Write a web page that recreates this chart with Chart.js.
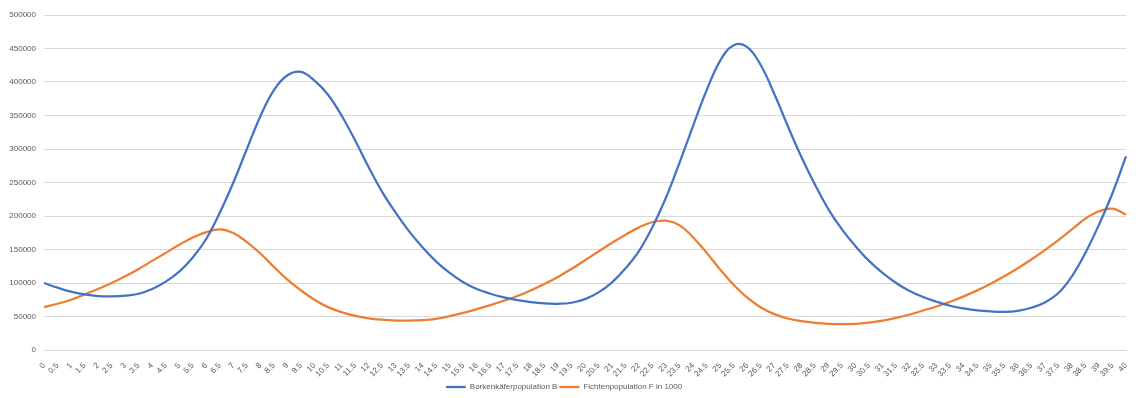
<!DOCTYPE html>
<html>
<head>
<meta charset="utf-8">
<script src="https://cdn.jsdelivr.net/npm/chart.js@4"></script>
<style>
  html, body { margin: 0; padding: 0; background: #fff; }
  #wrap { position: relative; width: 1139px; height: 398px; }
</style>
</head>
<body>
<div id="wrap"><canvas id="chart"></canvas></div>
<script>
// Time steps 0 .. 40 (step 0.5)
const labels = ['0','0.5','1','1.5','2','2.5','3','3.5','4','4.5','5','5.5','6','6.5','7','7.5','8','8.5','9','9.5',
  '10','10.5','11','11.5','12','12.5','13','13.5','14','14.5','15','15.5','16','16.5','17','17.5','18','18.5','19','19.5',
  '20','20.5','21','21.5','22','22.5','23','23.5','24','24.5','25','25.5','26','26.5','27','27.5','28','28.5','29','29.5',
  '30','30.5','31','31.5','32','32.5','33','33.5','34','34.5','35','35.5','36','36.5','37','37.5','38','38.5','39','39.5','40'];

// Borkenkäferpopulation B
const beetles = [
  100000, 93000, 87000, 83000, 80500, 80000, 81000, 84000, 91000, 102000,
  117000, 138000, 166000, 205000, 250000, 300000, 349000, 388000, 410000, 415000,
  402000, 381000, 350000, 313000, 273000, 236000, 205000, 177000, 153000, 132000,
  115000, 101000, 91000, 84000, 78500, 74500, 71500, 69500, 69000, 70500,
  76000, 86000, 101000, 122000, 148000, 184000, 228000, 280000, 335000, 388000,
  432000, 455000, 452000, 425000, 382000, 334000, 288000, 247000, 210000, 180000,
  155000, 133000, 115000, 100000, 88000, 79000, 72000, 66000, 62000, 59000,
  57500, 57000, 58500, 63000, 71000, 85000, 110000, 145000, 187000, 234000,
  289000
];

// Fichtenpopulation F in 1000
const spruce = [
  64000, 69000, 75000, 83000, 91000, 100000, 110000, 121000, 133000, 145000,
  157000, 168000, 176000, 180000, 174500, 161000, 144000, 124000, 105000, 89000,
  75000, 64000, 56500, 51000, 47300, 45200, 44000, 43800, 44500, 46500,
  50500, 55500, 61000, 67000, 73500, 80500, 89000, 98500, 109000, 121000,
  134000, 147000, 160000, 172000, 183000, 191000, 193000, 186000, 168000, 145000,
  120000, 97000, 78000, 63500, 53500, 47000, 43000, 40500, 39000, 38500,
  39000, 41000, 44000, 48000, 53000, 59000, 65000, 72000, 80000, 89000,
  99000, 110000, 122000, 135000, 149000, 164000, 180000, 196000, 207000, 211000,
  202000
];

const FONT = "'Liberation Sans', Arial, sans-serif";
const TEXT = '#595959';

new Chart(document.getElementById('chart'), {
  type: 'line',
  data: {
    labels,
    datasets: [
      { label: 'Borkenkäferpopulation B', data: beetles, borderColor: '#4472C4', backgroundColor: '#4472C4',
        borderWidth: 2.25, pointRadius: 0, tension: 0.4, fill: false },
      { label: 'Fichtenpopulation F in 1000', data: spruce, borderColor: '#ED7D31', backgroundColor: '#ED7D31',
        borderWidth: 2.25, pointRadius: 0, tension: 0.4, fill: false },
    ],
  },
  options: {
    responsive: true,
    maintainAspectRatio: false,
    animation: false,
    layout: { padding: { top: 15, right: 13, bottom: -3, left: 2 } },
    plugins: {
      tooltip: { enabled: false },
      legend: {
        position: 'bottom',
        labels: {
          usePointStyle: true, pointStyle: 'line', pointStyleWidth: 20,
          padding: 2, color: TEXT, font: { family: FONT, size: 8 },
        },
      },
    },
    scales: {
      x: {
        offset: false,
        grid: { display: false },
        border: { color: '#d9d9d9' },
        ticks: { autoSkip: false, maxRotation: 45, minRotation: 45, color: TEXT, font: { family: FONT, size: 8 }, padding: 3 },
        afterFit: s => { s.height = 31; },
      },
      y: {
        min: 0, max: 500000,
        grid: { color: '#d9d9d9', drawTicks: false },
        border: { display: false },
        ticks: { stepSize: 50000, color: TEXT, font: { family: FONT, size: 8 }, padding: 8, callback: v => String(v) },
        afterFit: s => { s.width = 42; },
      },
    },
  },
});
</script>
</body>
</html>
